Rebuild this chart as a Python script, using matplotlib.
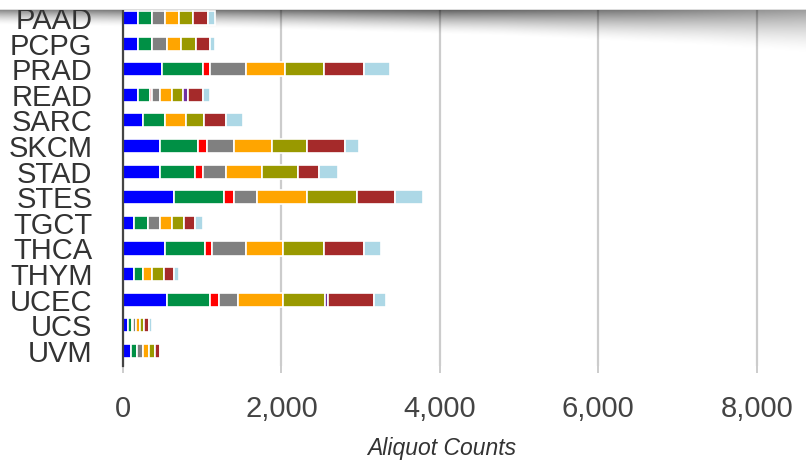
import numpy as np
import matplotlib
matplotlib.use("Agg")
import matplotlib.pyplot as plt
from matplotlib.patches import Rectangle
from matplotlib.ticker import FuncFormatter

# aliquot counts per project, one list per stacked segment
projects = ["PAAD", "PCPG", "PRAD", "READ", "SARC", "SKCM", "STAD",
            "STES", "TGCT", "THCA", "THYM", "UCEC", "UCS", "UVM"]
seg_blue = [194, 194, 494, 194, 254, 465, 465, 647, 135, 524, 135, 554, 60, 101]
seg_green = [178, 178, 511, 152, 270, 482, 448, 625, 178, 507, 118, 541, 55, 72]
seg_red = [0, 0, 94, 25, 0, 118, 93, 123, 0, 94, 0, 118, 15, 0]
seg_gray = [152, 183, 448, 93, 0, 330, 300, 300, 152, 422, 0, 241, 40, 76]
seg_orange = [178, 178, 503, 152, 271, 482, 452, 629, 152, 478, 118, 571, 50, 84]
seg_olive = [182, 185, 486, 144, 228, 448, 448, 630, 147, 511, 152, 528, 50, 72]
seg_purple = [0, 0, 0, 59, 0, 0, 0, 0, 0, 0, 0, 38, 0, 0]
seg_brown = [186, 178, 507, 190, 283, 482, 270, 482, 148, 507, 119, 575, 55, 63]
seg_lightblue = [85, 60, 330, 85, 211, 178, 237, 351, 93, 211, 63, 148, 35, 0]

segments = [
    (seg_blue, "#0000ff"),
    (seg_green, "#009045"),
    (seg_red, "#ff0000"),
    (seg_gray, "#808080"),
    (seg_orange, "#ffa500"),
    (seg_olive, "#999900"),
    (seg_purple, "#7030a0"),
    (seg_brown, "#a52a2a"),
    (seg_lightblue, "#add8e6"),
]

W, H = 806, 462
fig = plt.figure(figsize=(W / 100, H / 100), dpi=100, facecolor="white")

# header shadow behind the chart
bg = fig.add_axes([0, 0, 1, 1], zorder=-1)
xs = np.arange(W)
ys = np.arange(H)[:, None]
a0 = np.interp(xs, [0, 150, 450, 650, W], [0.45, 0.52, 0.6, 0.5, 0.38])
L = np.interp(xs, [0, 250, 500, 700, W], [15, 19, 26, 36, 44])
t = (ys - 10) / L[None, :]
alpha = np.where((t >= 0) & (t <= 1), a0[None, :] * np.clip(1 - t, 0, 1) ** 1.6, 0)
shadow = np.zeros((H, W, 4))
shadow[..., 3] = alpha
bg.imshow(shadow, extent=(0, W, H, 0), aspect="auto", interpolation="bilinear")
bg.set_xlim(0, W)
bg.set_ylim(H, 0)
bg.axis("off")

ax = fig.add_axes([123 / W, 1 - 366 / H, (760 - 123) / W, 366 / H])
ax.set_facecolor("none")

ypos = np.arange(len(projects))
left = np.zeros(len(projects))
for vals, col in segments:
    v = np.array(vals, dtype=float)
    ax.barh(ypos, v, left=left, height=0.55, color=col,
            edgecolor="white", linewidth=1.2, zorder=3)
    left += v

ax.set_xlim(0, 8040)
ax.set_ylim(13.59, (0 - 18) / 25.6)
ax.set_xticks([0, 2000, 4000, 6000, 8000])
ax.xaxis.set_major_formatter(FuncFormatter(lambda x, p: f"{x:,.0f}"))
ax.set_yticks(ypos)
ax.set_yticklabels(projects)

ax.xaxis.grid(True, color="black", alpha=0.2, linewidth=1.6, zorder=0)
ax.set_axisbelow(True)
for s in ["top", "right", "bottom"]:
    ax.spines[s].set_visible(False)
ax.spines["left"].set_color("#444444")
ax.spines["left"].set_linewidth(1.6)
ax.spines["left"].set_zorder(4)

ax.tick_params(axis="y", length=0, pad=22, labelsize=21, labelcolor="#333333")
ax.tick_params(axis="x", length=5, width=1.4, color="#cccccc", pad=16,
               labelsize=21, labelcolor="#444444")
for lab in ax.get_xticklabels() + ax.get_yticklabels():
    lab.set_family("Liberation Sans")

ax.set_xlabel("Aliquot Counts", fontsize=16.5, style="italic", color="#333333",
              family="Liberation Sans", labelpad=10)

# white header strip on top
fig.add_artist(Rectangle((0, 1 - 10 / H), 1, 10 / H, transform=fig.transFigure,
                         facecolor="white", edgecolor="none", zorder=10))
fig.add_artist(Rectangle((0, 1 - 10 / H), 1, 0.8 / H, transform=fig.transFigure,
                         facecolor="#dddddd", edgecolor="none", zorder=11))

fig.savefig("out.png", dpi=100)
